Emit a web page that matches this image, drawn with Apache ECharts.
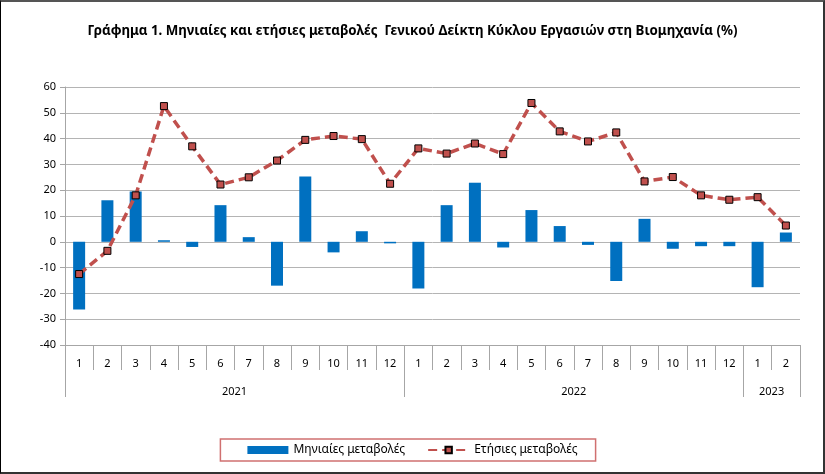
<!DOCTYPE html>
<html>
<head>
<meta charset="utf-8">
<script src="https://cdn.jsdelivr.net/npm/echarts@6/dist/echarts.min.js"></script>
<style>
  html, body { margin: 0; padding: 0; background: #fff; }
  #wrap { position: relative; width: 825px; height: 474px; overflow: hidden; }
  #chart { position: absolute; left: 0; top: 0; width: 825px; height: 474px; }
  #frame { position: absolute; left: 0; top: 0; width: 825px; height: 474px; box-sizing: border-box;
           border-top: 2px solid #555; border-left: 1px solid #000; border-right: 2px solid #333; border-bottom: 2px solid #333; pointer-events: none; }
</style>
</head>
<body>
<div id="wrap"><div id="chart"></div><div id="frame"></div></div>
<script>
const months = ['1','2','3','4','5','6','7','8','9','10','11','12','1','2','3','4','5','6','7','8','9','10','11','12','1','2'];
const yearLabels = ['2021', '2022', '2023'];
const yearStartIndex = [0, 12, 24];
const monthlyChange = [-26.2, 16.1, 19.5, 0.6, -2.0, 14.2, 1.8, -17.0, 25.3, -4.1, 4.1, -0.6,
                       -18.1, 14.2, 22.9, -2.2, 12.3, 6.1, -1.2, -15.2, 8.9, -2.7, -1.7, -1.7,
                       -17.6, 3.6];
const yearlyChange = [-12.5, -3.5, 18.0, 52.6, 37.0, 22.2, 25.0, 31.5, 39.5, 41.0, 39.8, 22.5,
                      36.2, 34.2, 38.1, 34.0, 53.8, 42.8, 38.9, 42.4, 23.4, 25.1, 18.0, 16.3,
                      17.3, 6.3];
const seriesNames = ['Μηνιαίες μεταβολές', 'Ετήσιες μεταβολές'];
const titleText = 'Γράφημα 1. Μηνιαίες και ετήσιες μεταβολές  Γενικού Δείκτη Κύκλου Εργασιών στη Βιομηχανία (%)';

// year of each category, built from the year labels and their start indices
const yearOfMonth = months.map(function (m, i) {
  let y = 0;
  for (let k = 0; k < yearStartIndex.length; k++) if (i >= yearStartIndex[k]) y = k;
  return yearLabels[y];
});
// category index holding each year's label (the one just left of the year's centre)
const yearLabelIndex = yearStartIndex.map(function (s, k) {
  const e = k + 1 < yearStartIndex.length ? yearStartIndex[k + 1] : months.length;
  return Math.floor((s + e) / 2) - ((e - s) % 2 === 0 ? 1 : 0);
});

const chart = echarts.init(document.getElementById('chart'), null, { renderer: 'canvas' });
const font = 'Noto Sans';
const axisGray = '#a6a6a6';
chart.setOption({
  animation: false,
  backgroundColor: '#fff',
  textStyle: { fontFamily: font },
  title: {
    text: titleText,
    left: 'center', top: 20,
    textStyle: { fontFamily: font, fontSize: 13.3, fontWeight: 'bold', color: '#000' }
  },
  legend: {
    bottom: 13, left: 'center',
    padding: [5, 18, 5, 27],
    borderColor: '#d07070', borderWidth: 1.5,
    itemGap: 22, itemWidth: 41, itemHeight: 8,
    textStyle: { fontFamily: font, fontSize: 12, color: '#000' },
    data: [
      { name: seriesNames[0], icon: 'rect' },
      { name: seriesNames[1] }
    ]
  },
  grid: { left: 65, right: 25, top: 87, bottom: 129, containLabel: false },
  xAxis: [
    {
      type: 'category', data: months, position: 'bottom',
      boundaryGap: true,
      axisLine: { show: true, onZero: false, lineStyle: { color: axisGray, width: 1 } },
      axisTick: { show: true, length: 25, alignWithLabel: false, lineStyle: { color: axisGray } },
      axisLabel: { color: '#000', fontSize: 11, margin: 13, interval: 0, fontFamily: font }
    },
    {
      type: 'category', data: yearOfMonth, position: 'bottom', gridIndex: 0,
      boundaryGap: true,
      axisLine: { show: false, onZero: false },
      splitLine: { show: false },
      axisTick: {
        show: true, length: 52, alignWithLabel: false,
        interval: function (i) { return yearStartIndex.indexOf(i) >= 0; },
        lineStyle: { color: axisGray }
      },
      axisLabel: {
        color: '#000', fontSize: 11, margin: 41, fontFamily: font,
        interval: function (i) { return yearLabelIndex.indexOf(i) >= 0; },
        padding: [0, 0, 0, 28]
      }
    }
  ],
  yAxis: {
    type: 'value', min: -40, max: 60, interval: 10,
    axisLine: { show: true, lineStyle: { color: axisGray } },
    axisTick: { show: true, length: 5, lineStyle: { color: axisGray } },
    axisLabel: { color: '#000', fontSize: 11, margin: 9, fontFamily: font },
    splitLine: { show: true, lineStyle: { color: '#b4b4b4', width: 1 } }
  },
  series: [
    {
      name: seriesNames[0], type: 'bar', xAxisIndex: 0, data: monthlyChange,
      barWidth: 12,
      itemStyle: { color: '#0070C0' }
    },
    {
      name: seriesNames[1], type: 'line', xAxisIndex: 0, data: yearlyChange,
      symbol: 'rect', symbolSize: 7,
      lineStyle: { color: '#C0504D', width: 3.5, type: [9, 5] },
      itemStyle: { color: '#C0504D', borderColor: '#000', borderWidth: 1 },
      z: 3
    }
  ]
});
</script>
</body>
</html>
